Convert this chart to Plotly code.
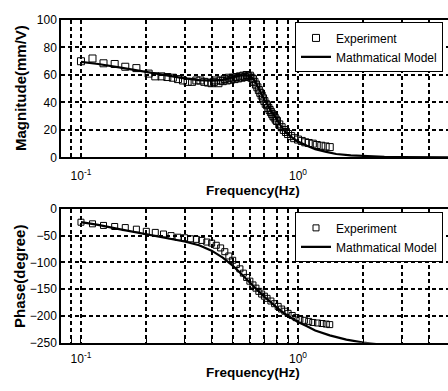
import plotly.graph_objects as go

# ---- data ----
mag_exp_f = [0.100, 0.113, 0.127, 0.143, 0.160, 0.180, 0.205, 0.220, 0.235, 0.250,
             0.265, 0.280, 0.295, 0.310, 0.325, 0.340, 0.355, 0.370, 0.385, 0.400,
             0.410, 0.420, 0.430, 0.440, 0.450, 0.460, 0.470, 0.480, 0.490, 0.500,
             0.510, 0.520, 0.530, 0.540, 0.550, 0.560, 0.570, 0.580, 0.590, 0.600,
             0.610, 0.620, 0.630, 0.640, 0.650, 0.660, 0.670, 0.680, 0.690, 0.700,
             0.710, 0.720, 0.730, 0.740, 0.750, 0.760, 0.770, 0.780, 0.790, 0.800,
             0.820, 0.840, 0.860, 0.880, 0.900, 0.930, 0.960, 1.000, 1.040, 1.080,
             1.120, 1.170, 1.220, 1.280, 1.340, 1.400]
mag_exp_v = [70, 72, 68.5, 68, 66, 65, 61, 59, 59, 58.5,
             58, 57, 56, 55, 55, 56, 56, 55, 54.5, 54,
             55, 56, 54, 56, 55.5, 57, 56, 58, 56.5, 58,
             57, 58.5, 57.5, 59, 58, 59.5, 58.5, 60, 59, 59.5,
             58, 57, 55, 53, 51, 49, 47, 45, 43, 41,
             39, 38, 36, 34.5, 33, 31.5, 30, 29, 27.5, 26.5,
             24, 22, 20, 18.5, 17, 15.5, 14, 13, 12, 11,
             10.5, 10, 9, 8.5, 8, 7.5]

mag_mod_f = [0.1, 0.12, 0.15, 0.2, 0.25, 0.3, 0.35, 0.4, 0.45, 0.5, 0.55, 0.6,
             0.63, 0.65, 0.7, 0.75, 0.8, 0.85, 0.9, 1.0, 1.1, 1.2, 1.35, 1.5,
             1.75, 2.0, 2.5, 3.0, 4.0, 5.0]
mag_mod_v = [69.5, 68, 65.5, 62, 59.5, 57.5, 56.3, 55.8, 56.5, 58.2, 59.8, 59.5,
             56, 52, 42, 34, 27, 21, 16.5, 11.5, 8.5, 6, 4, 2.5,
             1.5, 1.0, 0.5, 0.3, 0.15, 0.1]

ph_exp_f = [0.100, 0.113, 0.127, 0.143, 0.160, 0.180, 0.200, 0.220, 0.240, 0.260,
            0.280, 0.300, 0.320, 0.340, 0.360, 0.380, 0.400, 0.420, 0.440, 0.460,
            0.480, 0.500, 0.520, 0.540, 0.560, 0.580, 0.600, 0.620, 0.640, 0.660,
            0.680, 0.700, 0.720, 0.750, 0.780, 0.810, 0.840, 0.870, 0.900, 0.940,
            0.980, 1.020, 1.070, 1.120, 1.170, 1.230, 1.290, 1.350, 1.400]
ph_exp_v = [-25, -28, -31, -33, -35, -38, -42, -44, -47, -50,
            -53, -54, -56, -57, -59, -62, -64, -68, -73, -80,
            -88, -96, -104, -112, -120, -128, -135, -142, -148, -154,
            -159, -163, -167, -172, -177, -182, -187, -191, -195, -199,
            -203, -206, -208, -210, -212, -213, -214, -215, -216]

ph_mod_f = [0.1, 0.12, 0.15, 0.2, 0.25, 0.3, 0.35, 0.4, 0.45, 0.5, 0.55, 0.6,
            0.65, 0.7, 0.75, 0.8, 0.83, 0.9, 1.0, 1.1, 1.2, 1.4, 1.67, 2.0,
            2.3, 3.0, 5.0]
ph_mod_v = [-25, -30, -38, -48, -55, -61, -68, -78, -91, -106, -122, -138,
            -152, -164, -175, -184, -190, -200, -211, -219, -227, -236, -244, -249.5,
            -253, -258, -264]

x_tickvals = [0.09, 0.1, 0.2, 0.3, 0.4, 0.5, 0.6, 0.7, 0.8, 0.9, 1, 2, 3, 4]
x_ticktext = ["", "10<sup>-1</sup>", "", "", "", "", "", "", "", "", "10<sup>0</sup>", "", "", ""]
mag_ticks = [0, 20, 40, 60, 80, 100]
ph_ticks = [0, -50, -100, -150, -200, -250]

W, H = 448, 391
FONT = "Liberation Sans, Arial, sans-serif"
NARROW = "Liberation Sans Narrow, Arial Narrow, Liberation Sans, Arial, sans-serif"

fig = go.Figure()
fig.add_trace(go.Scatter(x=mag_exp_f, y=mag_exp_v, mode="markers", name="Experiment",
                         marker=dict(symbol="square-open", size=7, color="black",
                                     line=dict(width=1, color="black")),
                         xaxis="x", yaxis="y", legend="legend"))
fig.add_trace(go.Scatter(x=mag_mod_f, y=mag_mod_v, mode="lines", name="Mathmatical Model",
                         line=dict(color="black", width=2.2), xaxis="x", yaxis="y",
                         legend="legend"))
fig.add_trace(go.Scatter(x=ph_exp_f, y=ph_exp_v, mode="markers", name="Experiment",
                         marker=dict(symbol="square-open", size=6, color="black",
                                     line=dict(width=1, color="black")),
                         xaxis="x2", yaxis="y2", legend="legend2"))
fig.add_trace(go.Scatter(x=ph_mod_f, y=ph_mod_v, mode="lines", name="Mathmatical Model",
                         line=dict(color="black", width=2.2), xaxis="x2", yaxis="y2",
                         legend="legend2"))

def px2py(p):
    return 1 - p / H

xrange = [-1.092, 0.691]
xcommon = dict(type="log", range=xrange, tickvals=x_tickvals, ticktext=x_ticktext,
               showgrid=True, gridcolor="black", gridwidth=1.5, griddash="4px,3px",
               showline=True, linecolor="black", linewidth=1.5, mirror="ticks",
               ticks="inside", ticklen=4, tickcolor="black",
               tickfont=dict(family=NARROW, size=12, color="black"),
               zeroline=False)
ycommon = dict(showgrid=True, gridcolor="black", gridwidth=1.5, griddash="4px,3px",
               showline=True, linecolor="black", linewidth=1.5, mirror=False,
               ticks="inside", ticklen=4, tickcolor="black",
               tickfont=dict(family=NARROW, size=12, color="black"),
               zeroline=False)

fig.update_layout(
    width=W, height=H, margin=dict(l=61, r=0, t=0, b=0),
    paper_bgcolor="white", plot_bgcolor="white",
    xaxis=dict(domain=[0, 1], anchor="y", ticklabelstandoff=6, **xcommon),
    yaxis=dict(domain=[px2py(156), px2py(13.5)], anchor="x", range=[0, 100],
               tickvals=mag_ticks, **ycommon),
    xaxis2=dict(domain=[0, 1], anchor="y2", ticklabelstandoff=4, **xcommon),
    yaxis2=dict(domain=[px2py(348.3), px2py(209.3)], anchor="x2", range=[-250, 0],
                tickvals=ph_ticks, **ycommon),
    legend=dict(x=(443 - 61) / 387, xanchor="right", y=px2py(16), yanchor="top",
                bgcolor="white", bordercolor="black", borderwidth=1,
                font=dict(family=FONT, size=12, color="black"),
                tracegroupgap=0, itemwidth=30),
    legend2=dict(x=(443 - 61) / 387, xanchor="right", y=px2py(213), yanchor="top",
                 bgcolor="white", bordercolor="black", borderwidth=1,
                 font=dict(family=FONT, size=12, color="black"),
                 tracegroupgap=0, itemwidth=30),
    showlegend=True,
)

fig.add_annotation(text="<b>Frequency(Hz)</b>", xref="paper", yref="paper",
                   x=(253 - 61) / 387, y=px2py(190), showarrow=False,
                   font=dict(family=FONT, size=13.5, color="black"),
                   xanchor="center", yanchor="middle")
fig.add_annotation(text="<b>Frequency(Hz)</b>", xref="paper", yref="paper",
                   x=(253 - 61) / 387, y=px2py(379), showarrow=False,
                   font=dict(family=FONT, size=13.5, color="black"),
                   xanchor="center", yanchor="middle")
fig.add_annotation(text="<b>Magnitude(mm/V)</b>", xref="paper", yref="paper",
                   x=(21 - 61) / 387, y=px2py(84), showarrow=False,
                   font=dict(family=FONT, size=15, color="black"),
                   textangle=-90, xanchor="center", yanchor="middle")
fig.add_annotation(text="<b>Phase(degree)</b>", xref="paper", yref="paper",
                   x=(20 - 61) / 387, y=px2py(280), showarrow=False,
                   font=dict(family=FONT, size=15, color="black"),
                   textangle=-90, xanchor="center", yanchor="middle")

fig.write_html("out.html")
